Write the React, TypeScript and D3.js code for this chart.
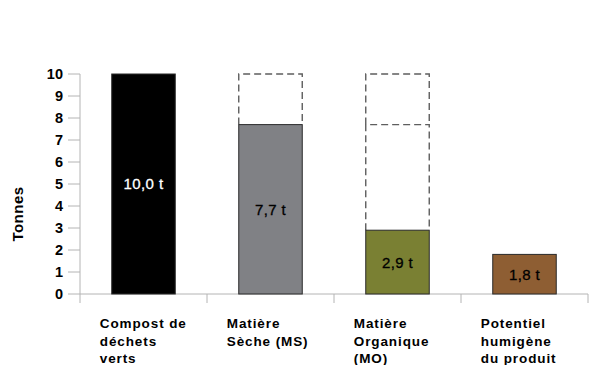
import React from "react";
import * as d3 from "d3";

// Mass balance of one batch of green-waste compost (tonnes)
const categoryLines: string[][] = [
  ["Compost de", "déchets", "verts"],
  ["Matière", "Sèche (MS)"],
  ["Matière", "Organique", "(MO)"],
  ["Potentiel", "humigène", "du produit"],
];
const values: number[] = [10.0, 7.7, 2.9, 1.8];
const valueLabels: string[] = ["10,0 t", "7,7 t", "2,9 t", "1,8 t"];
// Upper levels of the preceding stages, drawn as dashed outlines above each bar
const ghostLevels: number[][] = [[], [10], [7.7, 10], []];
const barColors: string[] = ["#000000", "#808185", "#7a8033", "#8e5e33"];
const labelColors: string[] = ["#ffffff", "#000000", "#000000", "#000000"];
const yTicks: number[] = [0, 1, 2, 3, 4, 5, 6, 7, 8, 9, 10];

const W = 589;
const H = 365;
const FONT = "'Liberation Sans', Arial, sans-serif";

export default function App() {
  const x = d3
    .scaleBand<number>()
    .domain(values.map((_, i) => i))
    .range([80, 588])
    .paddingInner(0.5)
    .paddingOuter(0.25);
  const y = d3.scaleLinear().domain([0, 10]).range([294, 74]);
  const step = x.step();
  const axisColor = "#b4b4b4";

  // open outline: up the left side, across the top, down the right side
  const ghostPath = (i: number, bottom: number, top: number) => {
    const p = d3.path();
    const x0 = x(i)!;
    const x1 = x0 + x.bandwidth();
    p.moveTo(x0, y(bottom));
    p.lineTo(x0, y(top));
    p.lineTo(x1, y(top));
    p.lineTo(x1, y(bottom));
    return p.toString();
  };

  return (
    <svg
      width={W}
      height={H}
      style={{ position: "absolute", left: 0, top: 0, background: "#fff" }}
      fontFamily={FONT}
    >
      {/* y axis */}
      <line x1={80} x2={80} y1={y(10)} y2={y(0)} stroke={axisColor} />
      {yTicks.map((t) => (
        <g key={t}>
          <line x1={68} x2={80} y1={y(t)} y2={y(t)} stroke={axisColor} />
          <text
            x={63}
            y={y(t)}
            dy="0.36em"
            textAnchor="end"
            fontSize={14.5}
            fontWeight="bold"
            fill="#000"
          >
            {t}
          </text>
        </g>
      ))}
      <text
        transform={`translate(23,214) rotate(-90)`}
        textAnchor="middle"
        fontSize={15}
        fontWeight="bold"
        letterSpacing={0.5}
      >
        Tonnes
      </text>

      {/* x axis with category separators */}
      <line x1={80} x2={588} y1={y(0)} y2={y(0)} stroke={axisColor} />
      {d3.range(values.length + 1).map((k) => {
        const xx = 80 + k * step;
        return (
          <line key={k} x1={xx} x2={xx} y1={y(0)} y2={y(0) + 9} stroke={axisColor} />
        );
      })}

      {/* dashed outlines of earlier stages */}
      {ghostLevels.map((levels, i) =>
        levels.map((top, j) => {
          const bottom = j === 0 ? values[i] : levels[j - 1];
          return (
            <path
              key={`${i}-${j}`}
              d={ghostPath(i, bottom, top)}
              fill="none"
              stroke="#5e5e5e"
              strokeWidth={1.4}
              strokeDasharray="7,4"
            />
          );
        })
      )}

      {/* bars */}
      {values.map((v, i) => (
        <g key={i}>
          <rect
            x={x(i)!}
            y={y(v)}
            width={x.bandwidth()}
            height={y(0) - y(v)}
            fill={barColors[i]}
            stroke="#2a2a2a"
            strokeWidth={1}
          />
          <text
            x={x(i)! + x.bandwidth() / 2}
            y={(y(v) + y(0)) / 2}
            dy="0.36em"
            textAnchor="middle"
            fontSize={15}
            fontWeight={500}
            letterSpacing={0.4}
            fill={labelColors[i]}
            stroke={labelColors[i]}
            strokeWidth={0.3}
          >
            {valueLabels[i]}
          </text>
        </g>
      ))}

      {/* category labels */}
      {categoryLines.map((lines, i) => (
        <text
          key={i}
          x={x(i)! - 12}
          y={328}
          fontSize={13.5}
          fontWeight="bold"
          letterSpacing={0.9}
          fill="#000"
        >
          {lines.map((l, k) => (
            <tspan key={k} x={x(i)! - 12} dy={k === 0 ? 0 : 17.5}>
              {l}
            </tspan>
          ))}
        </text>
      ))}
    </svg>
  );
}
